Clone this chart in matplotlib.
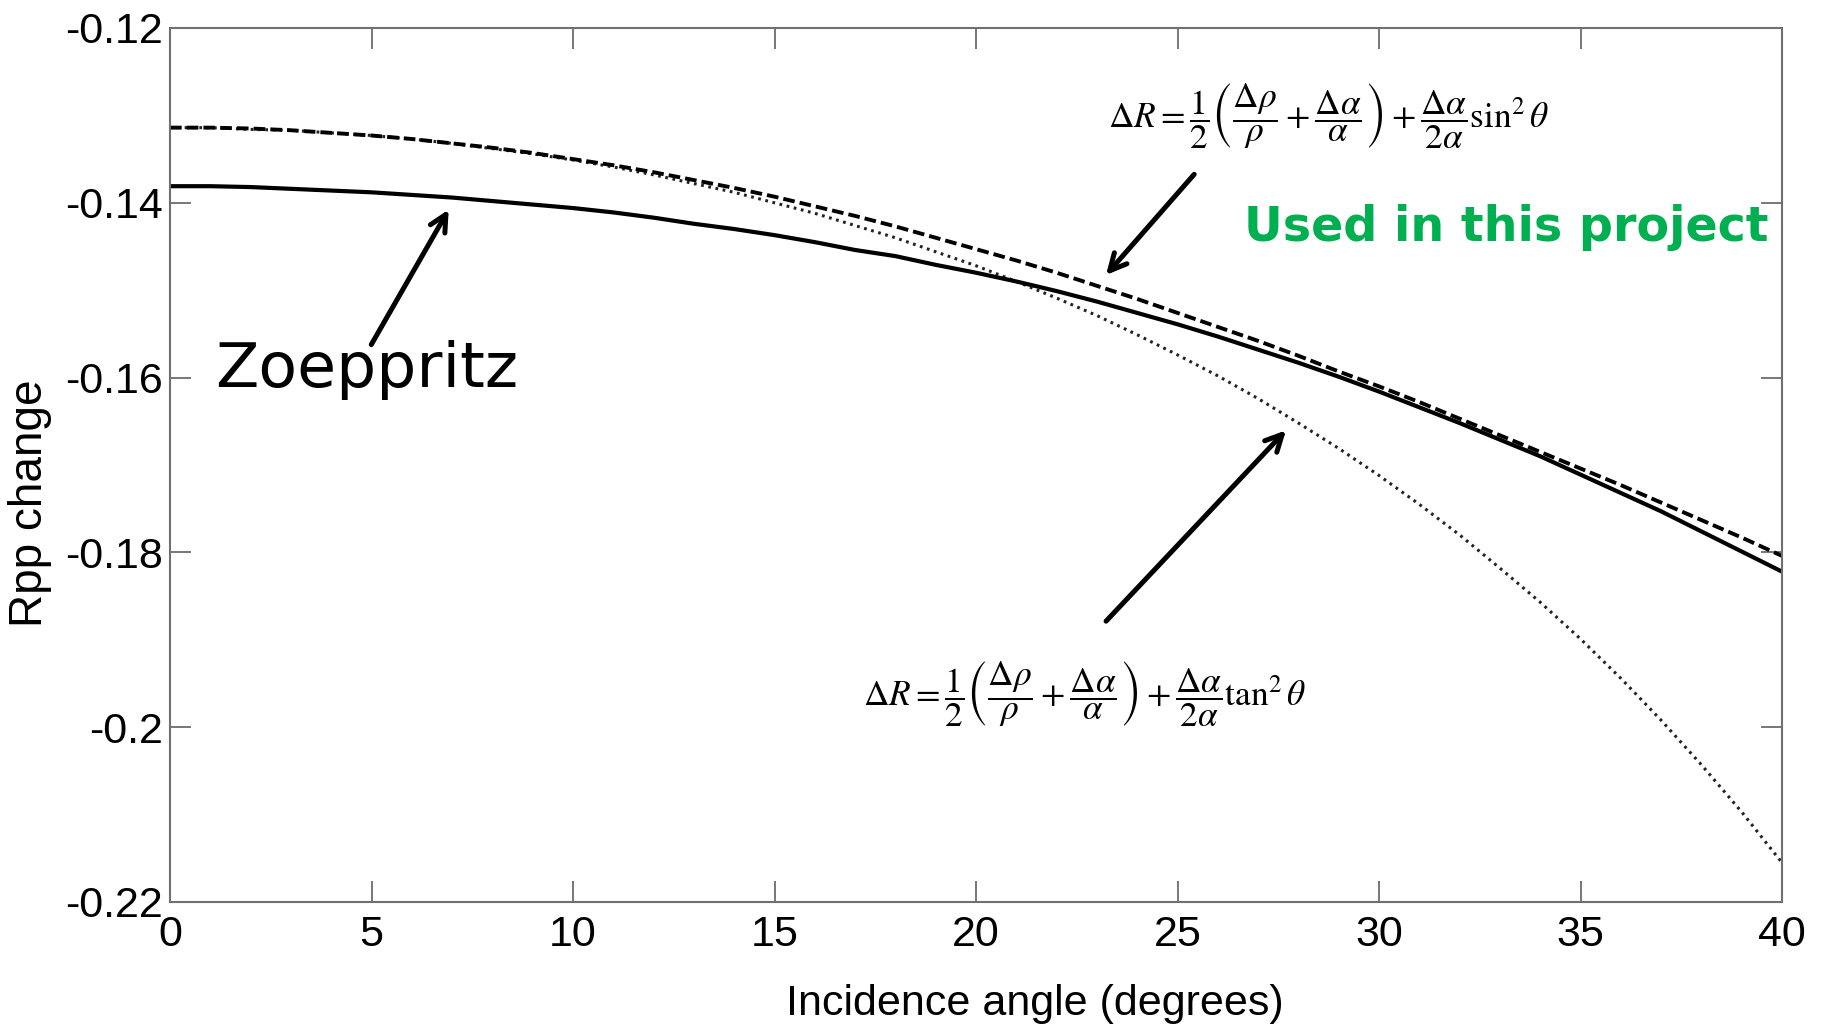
import numpy as np
import matplotlib
matplotlib.use("Agg")
import matplotlib.pyplot as plt
from matplotlib import font_manager

# incidence angles (degrees) and Rpp change for each method
angles = list(range(0, 41))
zoeppritz = [-0.1381, -0.1381, -0.1382, -0.1384, -0.1386, -0.1388, -0.1391, -0.1394, -0.1398, -0.1402,
             -0.1406, -0.1411, -0.1417, -0.1424, -0.1430, -0.1437, -0.1445, -0.1454, -0.1461, -0.1471,
             -0.1480, -0.1490, -0.1501, -0.1513, -0.1526, -0.1539, -0.1553, -0.1568, -0.1583, -0.1599,
             -0.1616, -0.1634, -0.1652, -0.1671, -0.1690, -0.1711, -0.1732, -0.1753, -0.1776, -0.1799,
             -0.1822]
approx_sin = [-0.1314, -0.1314, -0.1315, -0.1317, -0.1320, -0.1323, -0.1327, -0.1332, -0.1337, -0.1343,
              -0.1350, -0.1357, -0.1365, -0.1374, -0.1383, -0.1393, -0.1404, -0.1415, -0.1427, -0.1440,
              -0.1453, -0.1466, -0.1480, -0.1495, -0.1510, -0.1526, -0.1542, -0.1558, -0.1575, -0.1593,
              -0.1610, -0.1628, -0.1647, -0.1666, -0.1685, -0.1704, -0.1723, -0.1743, -0.1763, -0.1783,
              -0.1804]
approx_tan = [-0.1314, -0.1314, -0.1316, -0.1317, -0.1320, -0.1323, -0.1327, -0.1332, -0.1338, -0.1344,
              -0.1351, -0.1359, -0.1368, -0.1378, -0.1388, -0.1400, -0.1412, -0.1426, -0.1440, -0.1456,
              -0.1472, -0.1490, -0.1509, -0.1529, -0.1551, -0.1574, -0.1598, -0.1624, -0.1652, -0.1681,
              -0.1712, -0.1745, -0.1780, -0.1818, -0.1857, -0.1899, -0.1944, -0.1992, -0.2043, -0.2097,
              -0.2155]

xticks = [0, 5, 10, 15, 20, 25, 30, 35, 40]
yticks = [-0.22, -0.20, -0.18, -0.16, -0.14, -0.12]
ytick_labels = ['-0.22', '-0.2', '-0.18', '-0.16', '-0.14', '-0.12']

plt.rcParams['axes.unicode_minus'] = False
plt.rcParams['mathtext.fontset'] = 'stix'

# condensed face for the x axis texts when available
try:
    font_manager.findfont('Liberation Sans Narrow', fallback_to_default=False)
    xfont = dict(family='Liberation Sans Narrow', size=40)
except ValueError:
    xfont = dict(family='Liberation Sans', size=31)

fig = plt.figure(figsize=(18.26, 10.28), dpi=100)
ax = fig.add_axes([170 / 1826, 1 - 902 / 1028, 1612 / 1826, 874 / 1028])

ax.plot(angles, approx_tan, color='#222222', lw=2.2, dashes=(0.9, 1.5))
ax.plot(angles, approx_sin, color='black', lw=2.8, dashes=(3.0, 1.3))
ax.plot(angles, zoeppritz, color='black', lw=3.0)

ax.set_xlim(0, 40)
ax.set_ylim(-0.22, -0.12)
ax.set_xticks(xticks)
ax.set_xticklabels([str(t) for t in xticks], fontdict=xfont)
ax.set_yticks(yticks)
ax.set_yticklabels(ytick_labels, family='Liberation Sans', size=31)
ax.tick_params(direction='in', length=15, width=1.2, color='#606060',
               top=True, right=True)
ax.tick_params(axis='y', pad=5)
ax.tick_params(axis='x', pad=9)
for sp in ax.spines.values():
    sp.set_color('#707070')
    sp.set_linewidth(1.5)

ax.set_xlabel('Incidence angle (degrees)', fontdict=xfont)
ax.xaxis.set_label_coords(0.5366, -0.094)
ax.set_ylabel('Rpp change', family='Liberation Sans', size=33)
ax.yaxis.set_label_coords(-0.073, 0.4565)

arrow = dict(arrowstyle='->', lw=3.6, color='black', mutation_scale=30)

# Zoeppritz label
ax.text(1.12, -0.1611, 'Zoeppritz', family='DejaVu Sans', size=45.5, va='baseline', ha='left')
ax.annotate('', xy=(6.95, -0.1405), xytext=(4.96, -0.1565), arrowprops=arrow)

# linearised approximations
ax.text(28.76, -0.1301,
        r'$\Delta R=\dfrac{1}{2}\left(\dfrac{\Delta\rho}{\rho}+\dfrac{\Delta\alpha}{\alpha}\right)'
        r'+\dfrac{\Delta\alpha}{2\alpha}\sin^2\theta$',
        size=25.5, ha='center', va='center')
ax.annotate('', xy=(23.18, -0.1485), xytext=(25.46, -0.1365), arrowprops=arrow)

ax.text(22.70, -0.1963,
        r'$\Delta R=\dfrac{1}{2}\left(\dfrac{\Delta\rho}{\rho}+\dfrac{\Delta\alpha}{\alpha}\right)'
        r'+\dfrac{\Delta\alpha}{2\alpha}\tan^2\theta$',
        size=25.5, ha='center', va='center')
ax.annotate('', xy=(27.74, -0.1658), xytext=(23.18, -0.1881), arrowprops=arrow)

ax.text(33.15, -0.1428, 'Used in this project', family='DejaVu Sans', weight='bold',
        size=34.3, color='#00B050', ha='center', va='center')

fig.savefig('out.png', dpi=100)
